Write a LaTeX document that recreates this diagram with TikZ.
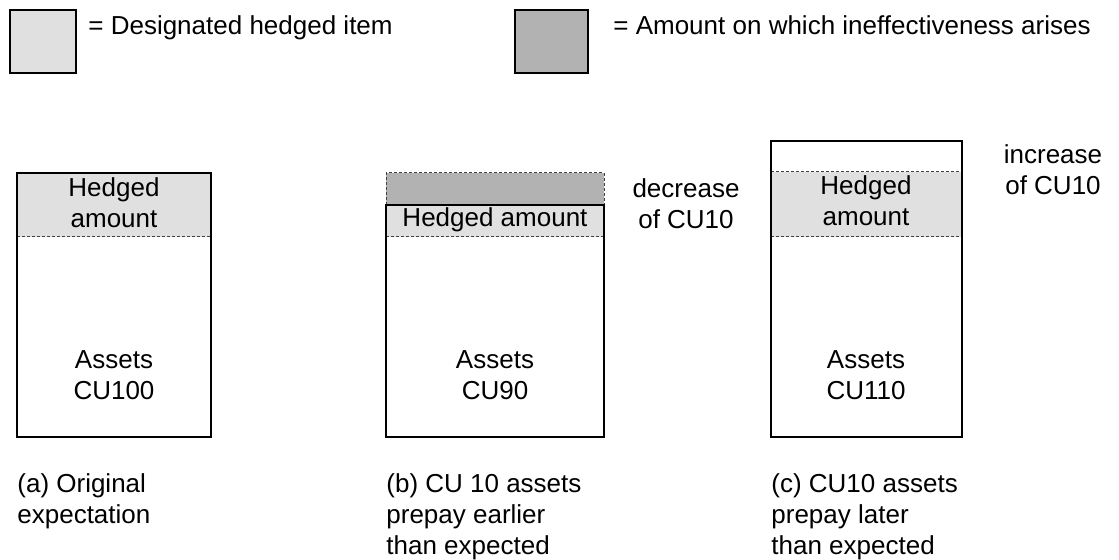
\documentclass[tikz,border=0pt]{standalone}
\usepackage{fontspec}
\setmainfont{Liberation Sans}
\usetikzlibrary{positioning}
\definecolor{hedgedgray}{gray}{0.88}
\definecolor{ineffgray}{gray}{0.70}

\begin{document}
\begin{tikzpicture}[x = 0.5pt, y = -0.5pt, font = \fontsize{13}{15.5}\selectfont]
      \tikzstyle{key} = [draw, line width = 1pt, minimum width = 33pt, minimum height = 31.5pt, inner sep = 0pt, anchor = north west]
      \tikzstyle{solid box} = [draw, line width = 1pt]
      \tikzstyle{cut} = [dash pattern = on 1.5pt off 1pt, line width = 0.5pt, draw = black!75]
      \tikzstyle{label} = [align = center, inner sep = 0pt, anchor = base]
      \tikzstyle{caption} = [align = left, inner sep = 0pt, anchor = base west]
      \useasboundingbox (0,0) rectangle (1119,560);
      % legend
      \node[key, fill = hedgedgray] (keyhedged) at (9,9) {};
      \node[caption] (keyhedgedtext) at (88,35) {= Designated hedged item};
      \node[key, fill = ineffgray, minimum width = 36.5pt] (keyineff) at (514,9) {};
      \node[caption] (keyinefftext) at (613,35) {= Amount on which ineffectiveness arises};
      % (a) original expectation
      \fill[hedgedgray] (17,173) rectangle (211,237);
      \draw[cut] (17,237) -- (211,237);
      \draw[solid box] (17,173) rectangle (211,437);
      \node[label] (ahedged) at (114,228) {Hedged\\amount};
      \node[label] (aassets) at (114,400) {Assets\\CU100};
      \node[caption] (acap) at (17,524) {(a) Original\\expectation};
      % (b) earlier prepayment
      \fill[ineffgray] (386,173) rectangle (604,205);
      \draw[cut] (386,205) -- (386,173) -- (604,173) -- (604,205);
      \fill[hedgedgray] (386,205) rectangle (604,237);
      \draw[cut] (386,237) -- (604,237);
      \draw[solid box] (386,205) rectangle (604,437);
      \node[label] (bhedged) at (495,227) {Hedged amount};
      \node[label] (bassets) at (495,400) {Assets\\CU90};
      \node[label] (bdiff) at (686,229) {decrease\\of CU10};
      \node[caption] (bcap) at (386,555) {(b) CU 10 assets\\prepay earlier\\than expected};
      % (c) later prepayment
      \fill[hedgedgray] (771,172) rectangle (962,237);
      \draw[cut] (771,172) -- (962,172) (771,237) -- (962,237);
      \draw[solid box] (771,141) rectangle (962,437);
      \node[label] (chedged) at (866,226) {Hedged\\amount};
      \node[label] (cassets) at (866,400) {Assets\\CU110};
      \node[label] (cdiff) at (1053,195) {increase\\of CU10};
      \node[caption] (ccap) at (771,555) {(c) CU10 assets\\prepay later\\than expected};
    \end{tikzpicture}
\end{document}
